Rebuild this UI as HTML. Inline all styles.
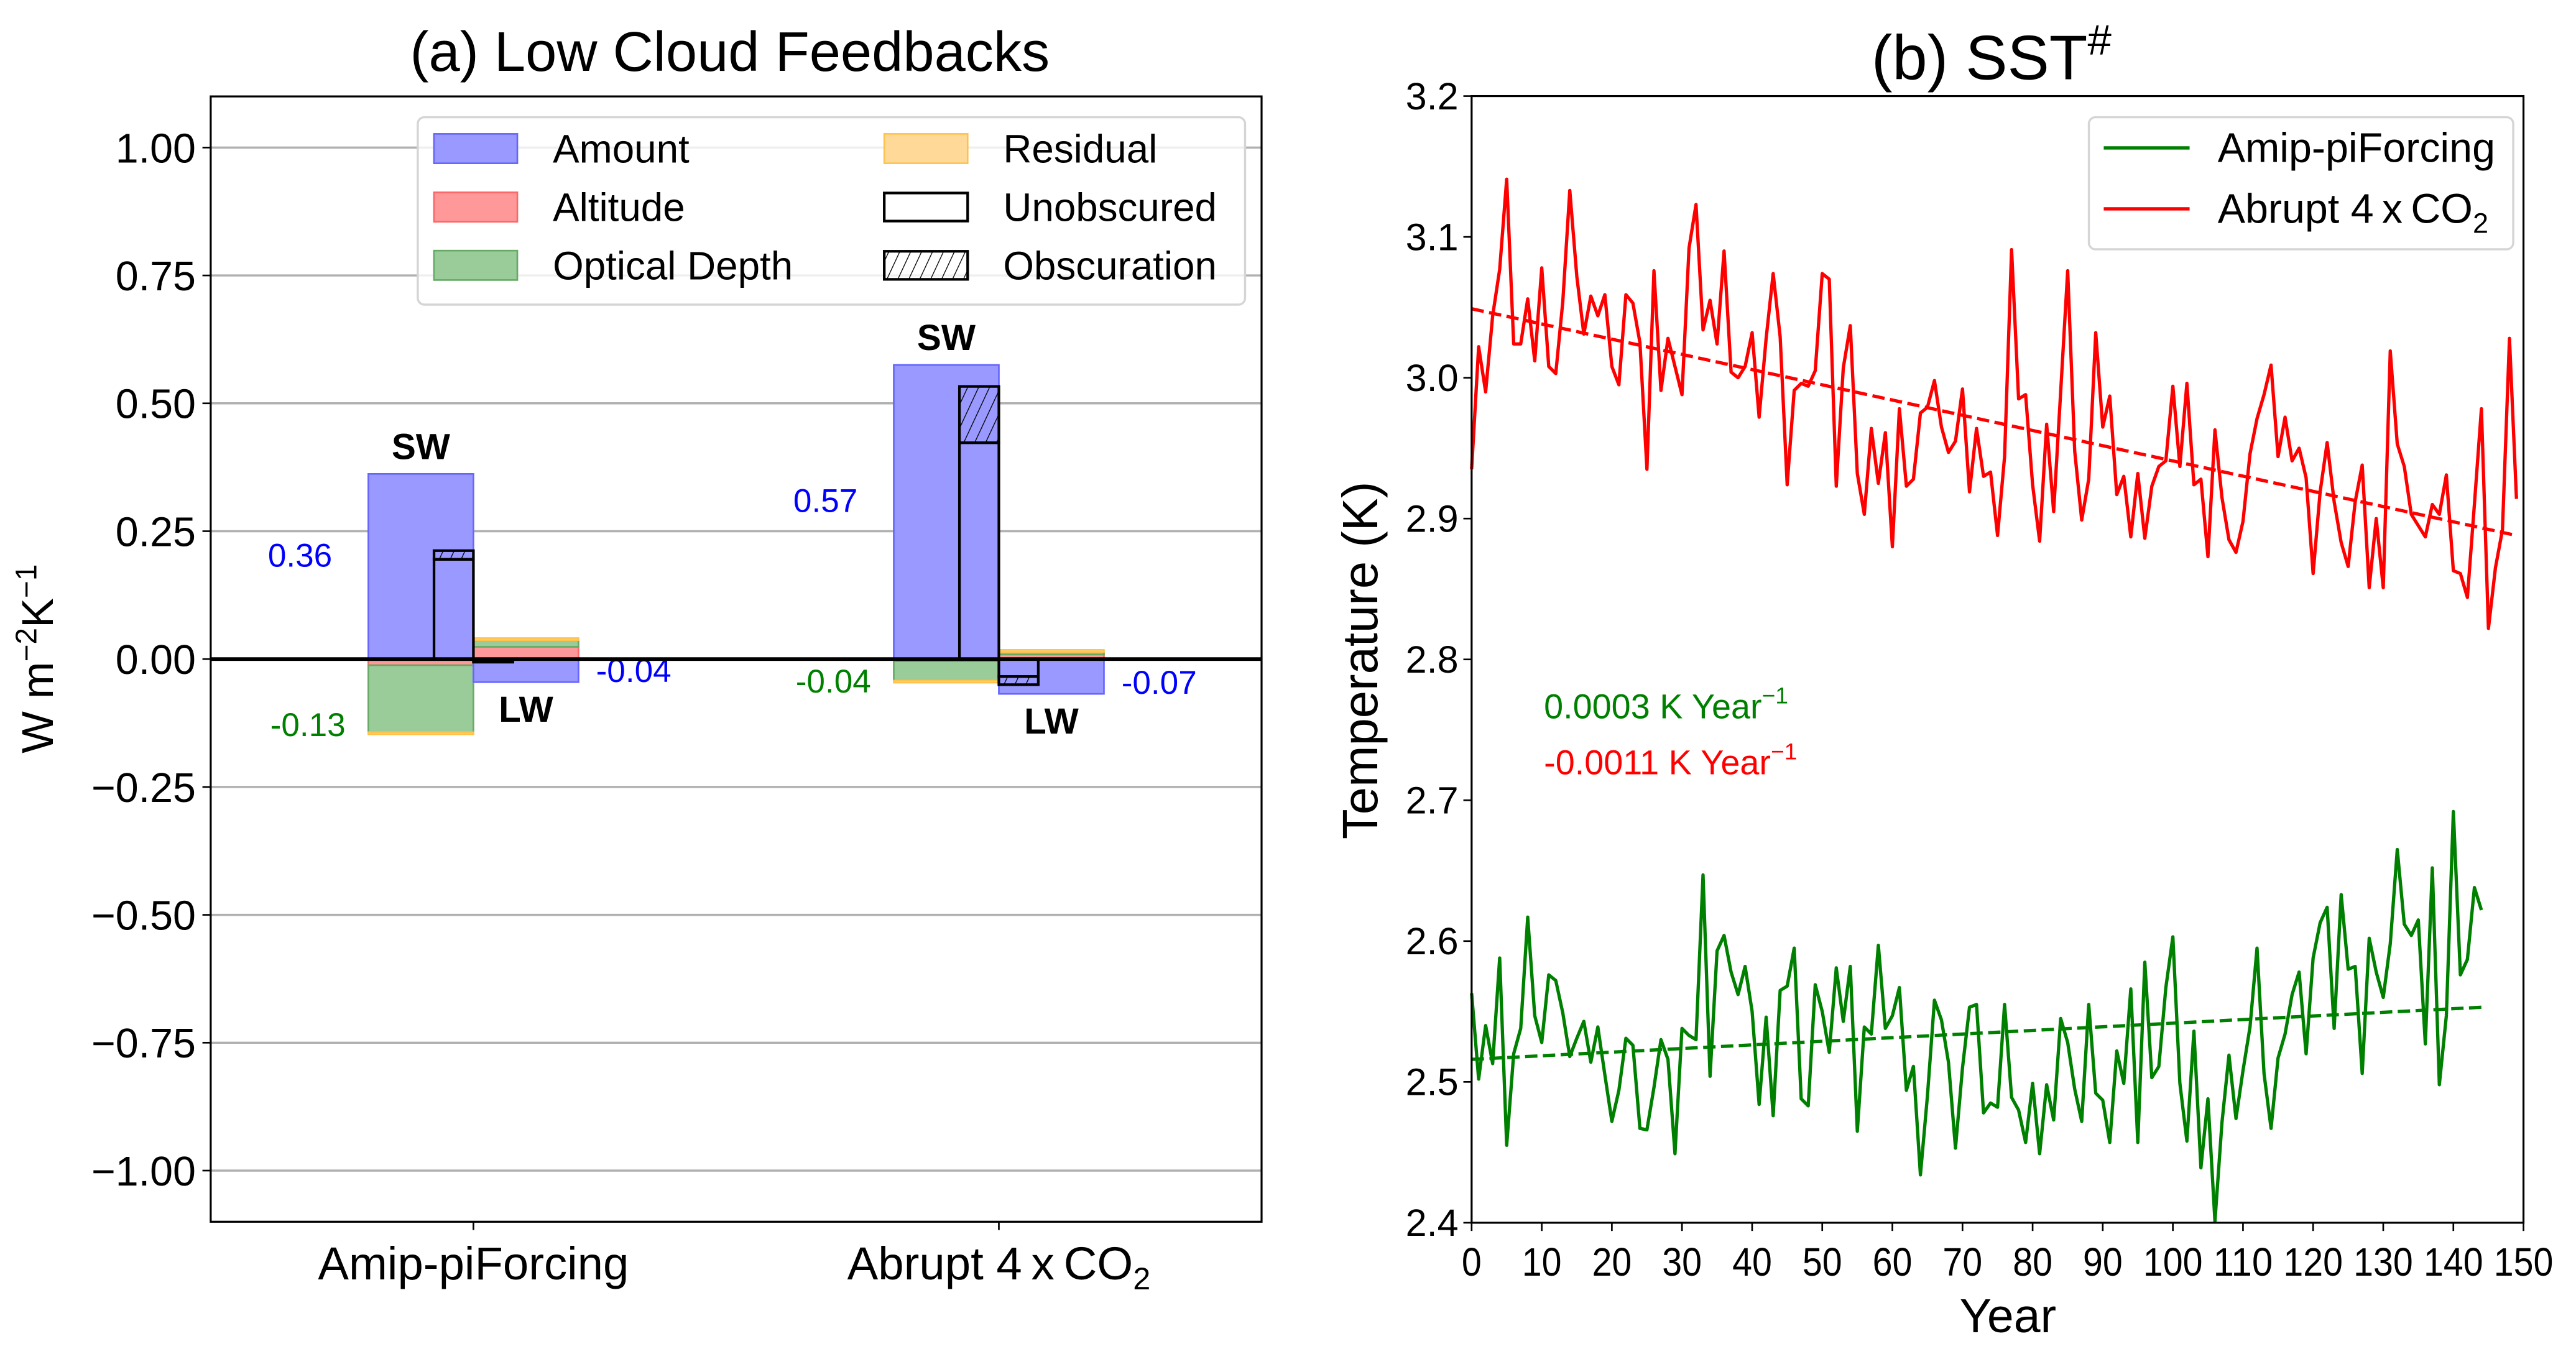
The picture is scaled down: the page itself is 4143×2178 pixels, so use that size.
<!DOCTYPE html>
<html><head><meta charset="utf-8">
<style>
html,body{margin:0;padding:0;background:#fff;}
svg{display:block;}
text{font-family:"Liberation Sans",Arial,sans-serif;}
</style></head>
<body>
<svg id="fig" xmlns="http://www.w3.org/2000/svg" width="4143" height="2178" viewBox="0 0 1560 820.1">
<defs>
<pattern id="hatch" patternUnits="userSpaceOnUse" width="6" height="6" patternTransform="rotate(25)">
<line x1="0" y1="0" x2="0" y2="6" stroke="#000" stroke-width="1"/>
</pattern>
</defs>
<rect x="0" y="0" width="1560" height="820.1" fill="#fff"/>
<g id="left"></g>
<g id="right"></g>
</svg>
<script>
// ---------- Panel (a) data ----------
const groups = ["Amip-piForcing", "Abrupt 4xCO2"];
const swAmount = [0.362, 0.575];
const swAltitude = [-0.012, -0.004];
const swOptical = [-0.131, -0.038];
const swResidual = [-0.004, -0.004];
const lwAmount = [-0.045, -0.068];
const lwAltitude = [0.024, 0.009];
const lwOptical = [0.013, 0.005];
const lwResidual = [0.004, 0.004];
const swUnobscured = [0.195, 0.423];
const swObscuration = [0.017, 0.110];
const lwUnobscured = [-0.006, -0.034];
const lwObscuration = [0.0, -0.016];
const swLabel = ["0.36", "0.57"];
const odLabel = ["-0.13", "-0.04"];
const lwLabel = ["-0.04", "-0.07"];
const leftTicks = [1.0, 0.75, 0.5, 0.25, 0.0, -0.25, -0.5, -0.75, -1.0];

// ---------- Panel (b) data ----------
const redSeries = [2.935,3.022,2.990,3.044,3.077,3.141,3.024,3.024,3.056,3.012,3.078,3.008,3.003,3.054,3.133,3.072,3.031,3.058,3.044,3.059,
3.008,2.995,3.059,3.053,3.025,2.935,3.076,2.991,3.028,3.008,2.988,3.092,3.123,3.034,3.055,3.024,3.090,3.004,3.000,3.008,
3.032,2.972,3.028,3.074,3.029,2.924,2.991,2.996,2.994,3.005,3.074,3.070,2.923,3.007,3.037,2.932,2.903,2.964,2.925,2.961,
2.880,2.978,2.923,2.928,2.975,2.979,2.998,2.965,2.947,2.955,2.992,2.919,2.964,2.930,2.933,2.888,2.944,3.091,2.985,2.988,
2.924,2.884,2.967,2.905,2.990,3.076,2.948,2.899,2.928,3.032,2.965,2.987,2.917,2.930,2.887,2.932,2.886,2.923,2.937,2.941,
2.994,2.937,2.996,2.924,2.928,2.873,2.963,2.915,2.885,2.876,2.898,2.946,2.971,2.988,3.009,2.944,2.972,2.941,2.950,2.929,
2.861,2.919,2.954,2.912,2.883,2.866,2.912,2.938,2.851,2.900,2.851,3.019,2.953,2.937,2.903,2.895,2.887,2.910,2.903,2.931,
2.863,2.861,2.844,2.910,2.978,2.822,2.865,2.892,3.028,2.914];
const greenSeries = [2.563,2.502,2.540,2.513,2.588,2.455,2.520,2.538,2.617,2.547,2.528,2.576,2.572,2.549,2.518,2.531,2.543,2.514,2.539,2.505,
2.472,2.494,2.531,2.526,2.467,2.466,2.496,2.530,2.516,2.449,2.538,2.533,2.530,2.647,2.504,2.593,2.604,2.578,2.562,2.582,
2.550,2.484,2.546,2.476,2.565,2.568,2.595,2.488,2.483,2.569,2.550,2.521,2.581,2.543,2.582,2.465,2.539,2.534,2.597,2.538,
2.547,2.567,2.494,2.511,2.434,2.490,2.558,2.544,2.514,2.453,2.510,2.553,2.555,2.478,2.485,2.482,2.555,2.489,2.480,2.457,
2.499,2.449,2.498,2.473,2.545,2.528,2.495,2.472,2.555,2.492,2.487,2.457,2.522,2.499,2.566,2.457,2.585,2.503,2.511,2.567,
2.603,2.499,2.458,2.536,2.439,2.488,2.401,2.471,2.519,2.474,2.508,2.539,2.595,2.506,2.467,2.517,2.534,2.562,2.578,2.520,
2.588,2.613,2.624,2.538,2.633,2.580,2.582,2.506,2.602,2.578,2.560,2.598,2.665,2.612,2.604,2.615,2.527,2.652,2.498,2.547,
2.692,2.576,2.587,2.638,2.622];
const redTrend = [3.049, 2.888];   // values at first/last year
const greenTrend = [2.516, 2.553];
const yTicksR = [3.2, 3.1, 3.0, 2.9, 2.8, 2.7, 2.6, 2.5, 2.4];
const xTicksR = [0,10,20,30,40,50,60,70,80,90,100,110,120,130,140,150];

const NS = "http://www.w3.org/2000/svg";
function mk(parent, tag, attrs, txt){
  const e = document.createElementNS(NS, tag);
  for (const k in attrs) e.setAttribute(k, attrs[k]);
  if (txt !== undefined) e.textContent = txt;
  parent.appendChild(e);
  return e;
}

// ================= Panel (a) =================
const L = document.getElementById('left');
const aX0 = 127.6, aX1 = 764, aY0 = 58.4, aY1 = 740;
const ax = u => aX0 + (u + 0.5) * (aX1 - aX0) / 2.0;
const ay = v => aY0 + (1.1 - v) * (aY1 - aY0) / 2.2;

let t = mk(L,'text',{x:442,y:43,'font-size':34,'text-anchor':'middle'},'(a) Low Cloud Feedbacks');



leftTicks.forEach(v=>{
  const g = mk(L,'line',{x1:aX0,x2:aX1,y1:ay(v),y2:ay(v),stroke:'#b0b0b0','stroke-width':1.3});
  
  
  const tk = mk(L,'line',{x1:aX0-5,x2:aX0,y1:ay(v),y2:ay(v),stroke:'#000','stroke-width':1});
  
  
  const s = (v<0?'\u2212':'') + Math.abs(v).toFixed(2);
  const lb = mk(L,'text',{x:aX0-9,y:ay(v)+9,'font-size':25,'text-anchor':'end'},s);
  
  
});

function rect(u0,u1,v0,v1,fill,stroke,name,sw){
  const r = mk(L,'rect',{x:ax(Math.min(u0,u1)),y:ay(Math.max(v0,v1)),width:Math.abs(ax(u1)-ax(u0)),height:Math.abs(ay(v0)-ay(v1)),fill:fill,stroke:stroke,'stroke-width':sw||1});
  
  
  return r;
}
const cAmt=['#9999ff','#6666ff'], cAlt=['#ff9999','#ff6666'], cOD=['#99cc99','#66aa66'], cRes=['#ffd998','#ffc34d'];
function stack(u0,u1,vals,cols,names){
  let pos=0, neg=0;
  vals.forEach((v,i)=>{
    if(v>=0){ rect(u0,u1,pos,pos+v,cols[i][0],cols[i][1],names[i]); pos+=v; }
    else { rect(u0,u1,neg,neg+v,cols[i][0],cols[i][1],names[i]); neg+=v; }
  });
}
groups.forEach((g,i)=>{
  stack(i-0.2,i,[swAmount[i],swAltitude[i],swOptical[i],swResidual[i]],[cAmt,cAlt,cOD,cRes],['sw-amount-bar','sw-altitude-bar','sw-optical-depth-bar','sw-residual-bar']);
  stack(i,i+0.2,[lwAmount[i],lwAltitude[i],lwOptical[i],lwResidual[i]],[cAmt,cAlt,cOD,cRes],['lw-amount-bar','lw-altitude-bar','lw-optical-depth-bar','lw-residual-bar']);
  rect(i-0.075,i,0,swUnobscured[i],'none','#000','sw-unobscured-bar',1.6);
  if(swObscuration[i]!==0) rect(i-0.075,i,swUnobscured[i],swUnobscured[i]+swObscuration[i],'url(#hatch)','#000','sw-obscuration-bar',1.6);
  rect(i,i+0.075,0,lwUnobscured[i],'none','#000','lw-unobscured-bar',1.6);
  if(lwObscuration[i]!==0) rect(i,i+0.075,lwUnobscured[i],lwUnobscured[i]+lwObscuration[i],'url(#hatch)','#000','lw-obscuration-bar',1.6);
  const top = swUnobscured[i]+swObscuration[i];
  let s = mk(L,'text',{x:ax(i-0.1),y:ay(Math.max(swAmount[i],top))-9,'font-size':22,'font-weight':'bold','text-anchor':'middle'},'SW');
  
  
  const lwBot = Math.min(lwAmount[i], lwUnobscured[i]+lwObscuration[i]);
  s = mk(L,'text',{x:ax(i+0.1),y:ay(lwBot)+24,'font-size':22,'font-weight':'bold','text-anchor':'middle'},'LW');
  
  
  s = mk(L,'text',{x:ax(i-0.33),y:ay(swAmount[i]*0.5),'font-size':20,fill:'#0000ff','text-anchor':'middle'},swLabel[i]);
  
  
  s = mk(L,'text',{x:ax(i-0.315),y:ay(swAltitude[i]+swOptical[i]+swResidual[i])+1+i*5,'font-size':20,fill:'#008000','text-anchor':'middle'},odLabel[i]);
  
  
  s = mk(L,'text',{x:ax(i+0.305),y:ay(lwAmount[i])+0,'font-size':20,fill:'#0000ff','text-anchor':'middle'},lwLabel[i]);
  
  
});
let z = mk(L,'line',{x1:aX0,x2:aX1,y1:ay(0),y2:ay(0),stroke:'#000','stroke-width':2.2});


let fr = mk(L,'rect',{x:aX0,y:aY0,width:aX1-aX0,height:aY1-aY0,fill:'none',stroke:'#000','stroke-width':1.2});


groups.forEach((g,i)=>{
  const tk = mk(L,'line',{x1:ax(i),x2:ax(i),y1:aY1,y2:aY1+5,stroke:'#000','stroke-width':1});
  
  
  const lb = mk(L,'text',{x:ax(i),y:aY1+35,'font-size':28,'text-anchor':'middle'});
  
  
  if(i===0) lb.textContent='Amip-piForcing';
  else { lb.textContent='Abrupt 4\u2009x\u2009CO'; mk(lb,'tspan',{'font-size':19,dy:6},'2'); }
});
let yl = mk(L,'text',{x:0,y:0,'font-size':27,'text-anchor':'middle',transform:'translate(32,399) rotate(-90)'});


yl.appendChild(document.createTextNode('W m'));
mk(yl,'tspan',{'font-size':18,dy:-10},'\u22122');
mk(yl,'tspan',{dy:10},'K');
mk(yl,'tspan',{'font-size':18,dy:-10},'\u22121');

// legend (a)
const lg = mk(L,'g',{});


mk(lg,'rect',{x:253,y:71,width:501,height:113.5,rx:4,fill:'#fff','fill-opacity':0.8,stroke:'#d5d5d5','stroke-width':1.3});
const legItems=[['Amount',cAmt,262.8,90],['Altitude',cAlt,262.8,125.4],['Optical Depth',cOD,262.8,160.7],['Residual',cRes,535.5,90],['Unobscured',null,535.5,125.4],['Obscuration','h',535.5,160.7]];
legItems.forEach(it=>{
  let r;
  if(it[1]===null) r = mk(lg,'rect',{x:it[2],y:it[3]-8.5,width:50.5,height:17,fill:'#fff',stroke:'#000','stroke-width':1.6});
  else if(it[1]==='h') r = mk(lg,'rect',{x:it[2],y:it[3]-8.5,width:50.5,height:17,fill:'url(#hatch)',stroke:'#000','stroke-width':1.6});
  else r = mk(lg,'rect',{x:it[2],y:it[3]-8.9,width:50.5,height:17.8,fill:it[1][0],stroke:it[1][1],'stroke-width':1});
  
  
  const tx = mk(lg,'text',{x:it[2]+72,y:it[3]+8.5,'font-size':24},it[0]);
  
  
});

// ================= Panel (b) =================
const R = document.getElementById('right');
const bX0 = 891.2, bX1 = 1528.2, bY0 = 58.2, bY1 = 740.6;
const bx = yr => bX0 + yr * (bX1 - bX0) / 150;
const by = v => bY0 + (3.2 - v) * (bY1 - bY0) / 0.8;

t = mk(R,'text',{x:1206,y:48,'font-size':38,'text-anchor':'middle'},'(b) SST');


mk(t,'tspan',{'font-size':26,dy:-15},'#');

yTicksR.forEach(v=>{
  const tk = mk(R,'line',{x1:bX0-5,x2:bX0,y1:by(v),y2:by(v),stroke:'#000','stroke-width':1});
  
  
  const lb = mk(R,'text',{x:bX0-8,y:by(v)+8,'font-size':23,'text-anchor':'end'},v.toFixed(1));
  
  
});
xTicksR.forEach(v=>{
  const tk = mk(R,'line',{x1:bx(v),x2:bx(v),y1:bY1,y2:bY1+5,stroke:'#000','stroke-width':1});
  
  
  const lb = mk(R,'text',{x:bx(v),y:bY1+32,'font-size':24,'text-anchor':'middle',textLength:(v>=100?36:(v===0?12:24)),lengthAdjust:'spacingAndGlyphs'},String(v));
  
  
});
function series(vals,color,name){
  const pts = vals.map((v,i)=>bx(i).toFixed(2)+','+by(v).toFixed(2)).join(' ');
  const p = mk(R,'polyline',{points:pts,fill:'none',stroke:color,'stroke-width':2,'stroke-linejoin':'round'});
  
  
}
function trend(tv,n,color,name){
  const p = mk(R,'line',{x1:bx(0),y1:by(tv[0]),x2:bx(n-1),y2:by(tv[1]),stroke:color,'stroke-width':2,'stroke-dasharray':'7.5,3.3'});
  
  
}
series(redSeries,'#ff0000','abrupt-4xco2-line');
series(greenSeries,'#008000','amip-piforcing-line');
trend(redTrend,redSeries.length,'#ff0000','abrupt-4xco2-trend');
trend(greenTrend,greenSeries.length,'#008000','amip-piforcing-trend');

fr = mk(R,'rect',{x:bX0,y:bY0,width:bX1-bX0,height:bY1-bY0,fill:'none',stroke:'#000','stroke-width':1.2});



let a1 = mk(R,'text',{x:935,y:435,'font-size':21,fill:'#008000'},'0.0003 K Year');


mk(a1,'tspan',{'font-size':14,dy:-9},'\u22121');
let a2 = mk(R,'text',{x:935,y:469,'font-size':21,fill:'#ff0000'},'-0.0011 K Year');


mk(a2,'tspan',{'font-size':14,dy:-9},'\u22121');

let xl = mk(R,'text',{x:1216,y:807,'font-size':29,'text-anchor':'middle'},'Year');


let yl2 = mk(R,'text',{x:0,y:0,'font-size':30,'text-anchor':'middle',transform:'translate(834,400) rotate(-90)'},'Temperature (K)');



const lg2 = mk(R,'g',{});


mk(lg2,'rect',{x:1265,y:71,width:257,height:80,rx:4,fill:'#fff','fill-opacity':0.8,stroke:'#d5d5d5','stroke-width':1.3});
[['Amip-piForcing','#008000',89.6],['Abrupt 4\u2009x\u2009CO','#ff0000',126.5]].forEach((it,i)=>{
  const ln = mk(lg2,'line',{x1:1274,x2:1326,y1:it[2],y2:it[2],stroke:it[1],'stroke-width':2});
  
  
  const tx = mk(lg2,'text',{x:1343,y:it[2]+8.5,'font-size':25},it[0]);
  
  
  if(i===1) mk(tx,'tspan',{'font-size':17,dy:6},'2');
});
</script>
</body></html>
